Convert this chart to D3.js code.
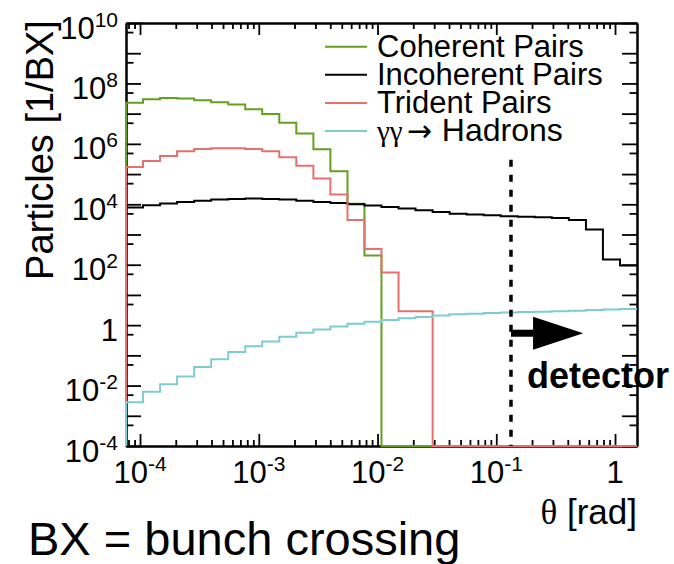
<!DOCTYPE html>
<html>
<head>
<meta charset="utf-8">
<script src="https://cdn.jsdelivr.net/npm/d3@7"></script>
<style>
body { margin: 0; background: #fff; }
svg text { font-family: "Liberation Sans", Arial, Helvetica, sans-serif; fill: #000; }
</style>
</head>
<body>
<div id="chart-area"></div>
<script>
const width = 674;
const height = 564;
const margin = {top: 23, right: 37, bottom: 118, left: 126};

// theta bin edges [rad], 30 log bins
const thetaEdges = [7.62e-5, 1.059e-4, 1.476e-4, 2.051e-4, 2.858e-4, 3.972e-4, 5.534e-4, 7.691e-4,
	1.069e-3, 1.489e-3, 2.070e-3, 2.884e-3, 4.009e-3, 5.585e-3, 7.762e-3, 1.079e-2, 1.503e-2,
	2.089e-2, 2.911e-2, 4.046e-2, 5.636e-2, 7.834e-2, 0.1089, 0.1517, 0.2109, 0.2938, 0.4083,
	0.5689, 0.7907, 1.102, 1.531];

// particles per BX in each bin
const coherent = [2.3e7, 3.0e7, 3.3e7, 3.2e7, 2.8e7, 2.4e7, 2.0e7, 1.4e7, 9.8e6, 5.0e6, 2.2e6,
	6.6e5, 1.25e5, 1.05e4, 2.0e2, 0, 0, 0, 0, 0, 0, 0, 0, 0, 0, 0, 0, 0, 0, 0];
const incoherent = [7.8e3, 9.3e3, 1.07e4, 1.19e4, 1.32e4, 1.43e4, 1.5e4, 1.55e4, 1.5e4, 1.43e4,
	1.32e4, 1.19e4, 1.1e4, 1.0e4, 9.1e3, 8.1e3, 7.2e3, 6.3e3, 5.6e3, 4.9e3, 4.6e3, 4.3e3, 4.0e3,
	3.9e3, 3.7e3, 3.5e3, 3.0e3, 1.45e3, 150, 95];
const trident = [1.7e5, 2.7e5, 4.0e5, 5.7e5, 6.8e5, 7.2e5, 7.2e5, 6.8e5, 5.7e5, 3.6e5, 1.9e5,
	7.2e4, 2.1e4, 3.0e3, 330, 55, 2.9, 2.9, 0, 0, 0, 0, 0, 0, 0, 0, 0, 0, 0, 0];
const hadrons = [2.8e-3, 6.2e-3, 1.1e-2, 2.0e-2, 4.1e-2, 7.4e-2, 0.13, 0.20, 0.29, 0.41, 0.56,
	0.72, 0.91, 1.12, 1.30, 1.48, 1.68, 1.86, 2.07, 2.29, 2.4, 2.5, 2.6, 2.7, 2.8, 2.9, 3.0, 3.15,
	3.3, 3.45];

const legendLabels = ["Coherent Pairs", "Incoherent Pairs", "Trident Pairs", "γγ → Hadrons"];
const colors = ["#62a01e", "#000000", "#e4716c", "#7dcdd0"];

const yMin = 1e-4, yMax = 1e10;
const xLabelExps = [-4, -3, -2, -1, 0];
const yLabelExps = [-4, -2, 0, 2, 4, 6, 8, 10];
const detectorTheta = 0.133;

var svg = d3.select("#chart-area").append("svg")
	.attr("width", width)
	.attr("height", height);

var x = d3.scaleLog()
	.domain([thetaEdges[0], thetaEdges[thetaEdges.length - 1]])
	.range([margin.left, width - margin.right]);

var y = d3.scaleLog()
	.domain([yMin, yMax])
	.range([height - margin.bottom, margin.top]);

var x0 = margin.left, x1 = width - margin.right;
var y0 = height - margin.bottom, y1 = margin.top;

// ticks
var xAll = x.ticks();
var xMajor = xAll.filter(d => Math.abs(Math.log10(d) - Math.round(Math.log10(d))) < 1e-9);
var xMinor = xAll.filter(d => xMajor.indexOf(d) < 0);
var yMajor = d3.range(-4, 11).map(e => Math.pow(10, e));
var yMinor = d3.range(-4, 10).map(e => 5 * Math.pow(10, e));

function styleAxis(g) {
	g.selectAll("path.domain").attr("stroke", "#000").attr("stroke-width", 2);
	g.selectAll(".tick line").attr("stroke", "#000").attr("stroke-width", 1.8);
	g.selectAll(".tick text").remove();
}

function addAxis(axis, tx, ty) {
	svg.append("g")
		.attr("transform", `translate(${tx},${ty})`)
		.call(axis.tickSizeOuter(0).tickFormat(""))
		.call(styleAxis);
}

addAxis(d3.axisBottom(x).tickValues(xMajor).tickSize(-12), 0, y0);
addAxis(d3.axisBottom(x).tickValues(xMinor).tickSize(-6), 0, y0);
addAxis(d3.axisTop(x).tickValues(xMajor).tickSize(-12), 0, y1);
addAxis(d3.axisTop(x).tickValues(xMinor).tickSize(-6), 0, y1);
addAxis(d3.axisLeft(y).tickValues(yMajor).tickSize(-15), x0, 0);
addAxis(d3.axisLeft(y).tickValues(yMinor).tickSize(-7.5), x0, 0);
addAxis(d3.axisRight(y).tickValues(yMajor).tickSize(-15), x1, 0);
addAxis(d3.axisRight(y).tickValues(yMinor).tickSize(-7.5), x1, 0);

function powText(t, e) {
	if (e === 0) {
		t.text("1");
		return;
	}
	t.append("tspan").text("10");
	t.append("tspan").attr("dy", -12).attr("font-size", 21).text(e);
}

svg.selectAll(".xlab")
	.data(xLabelExps)
	.enter().append("text")
	.attr("class", "xlab")
	.attr("x", d => x(Math.pow(10, d)))
	.attr("y", y0 + 37)
	.attr("text-anchor", "middle")
	.attr("font-size", 31)
	.each(function(d) { powText(d3.select(this), d); });

svg.selectAll(".ylab")
	.data(yLabelExps)
	.enter().append("text")
	.attr("class", "ylab")
	.attr("x", x0 - 8)
	.attr("y", d => y(Math.pow(10, d)) + 15.5)
	.attr("text-anchor", "end")
	.attr("font-size", 31)
	.each(function(d) { powText(d3.select(this), d); });

// histograms
var line = d3.line()
	.x(d => x(d[0]))
	.y(d => y(Math.max(d[1], yMin)))
	.curve(d3.curveStepAfter);

var seriesList = [coherent, incoherent, trident, hadrons];
seriesList.forEach(function(values, k) {
	var n = values.length;
	var pts = [[thetaEdges[0], yMin]]
		.concat(values.map((v, i) => [thetaEdges[i], v]))
		.concat([[thetaEdges[n], values[n - 1]]]);
	svg.append("path")
		.datum(pts)
		.attr("fill", "none")
		.attr("stroke", colors[k])
		.attr("stroke-width", 2)
		.attr("d", line);
});

// legend
var legend = svg.append("g");
legendLabels.forEach(function(label, i) {
	var ly = 46.7 + 28.1 * i;
	legend.append("line")
		.attr("x1", 325).attr("x2", 367)
		.attr("y1", ly).attr("y2", ly)
		.attr("stroke", colors[i])
		.attr("stroke-width", 2);
	var t = legend.append("text")
		.attr("x", 377)
		.attr("y", ly + 10)
		.attr("font-size", 31);
	if (label.indexOf("γγ") === 0) {
		t.append("tspan").attr("font-family", "Liberation Serif").attr("font-size", 29).text("γγ");
		t.append("tspan").attr("font-family", "DejaVu Sans").attr("font-size", 30).attr("dx", 4).text("→");
		t.append("tspan").attr("dx", 10).attr("font-size", 32).text("Hadrons");
	} else {
		t.text(label);
	}
});

// detector annotation
svg.append("line")
	.attr("x1", x(detectorTheta)).attr("x2", x(detectorTheta))
	.attr("y1", y(3e5)).attr("y2", y0)
	.attr("stroke", "#000")
	.attr("stroke-width", 3.5)
	.attr("stroke-dasharray", "7,8");

var arrowY = y(0.54);
svg.append("rect")
	.attr("x", x(detectorTheta))
	.attr("y", arrowY - 3.5)
	.attr("width", x(0.204) - x(detectorTheta))
	.attr("height", 7)
	.attr("fill", "#000");
svg.append("path")
	.attr("d", `M${x(0.204)},${arrowY - 16.5}L${x(0.54)},${arrowY}L${x(0.204)},${arrowY + 16.5}Z`)
	.attr("fill", "#000");

svg.append("text")
	.attr("x", x(detectorTheta) + 16)
	.attr("y", 388)
	.attr("font-size", 36)
	.attr("font-weight", "bold")
	.text("detector");

// titles
svg.append("text")
	.attr("transform", `translate(53,150) rotate(-90)`)
	.attr("text-anchor", "middle")
	.attr("font-size", 38)
	.text("Particles [1/BX]");

var xt = svg.append("text")
	.attr("x", x1)
	.attr("y", 524)
	.attr("text-anchor", "end")
	.attr("font-size", 35);
xt.append("tspan").attr("font-family", "Liberation Serif").text("θ");
xt.append("tspan").text(" [rad]");

svg.append("text")
	.attr("x", 28)
	.attr("y", 555)
	.attr("font-size", 47)
	.text("BX = bunch crossing");
</script>
</body>
</html>
